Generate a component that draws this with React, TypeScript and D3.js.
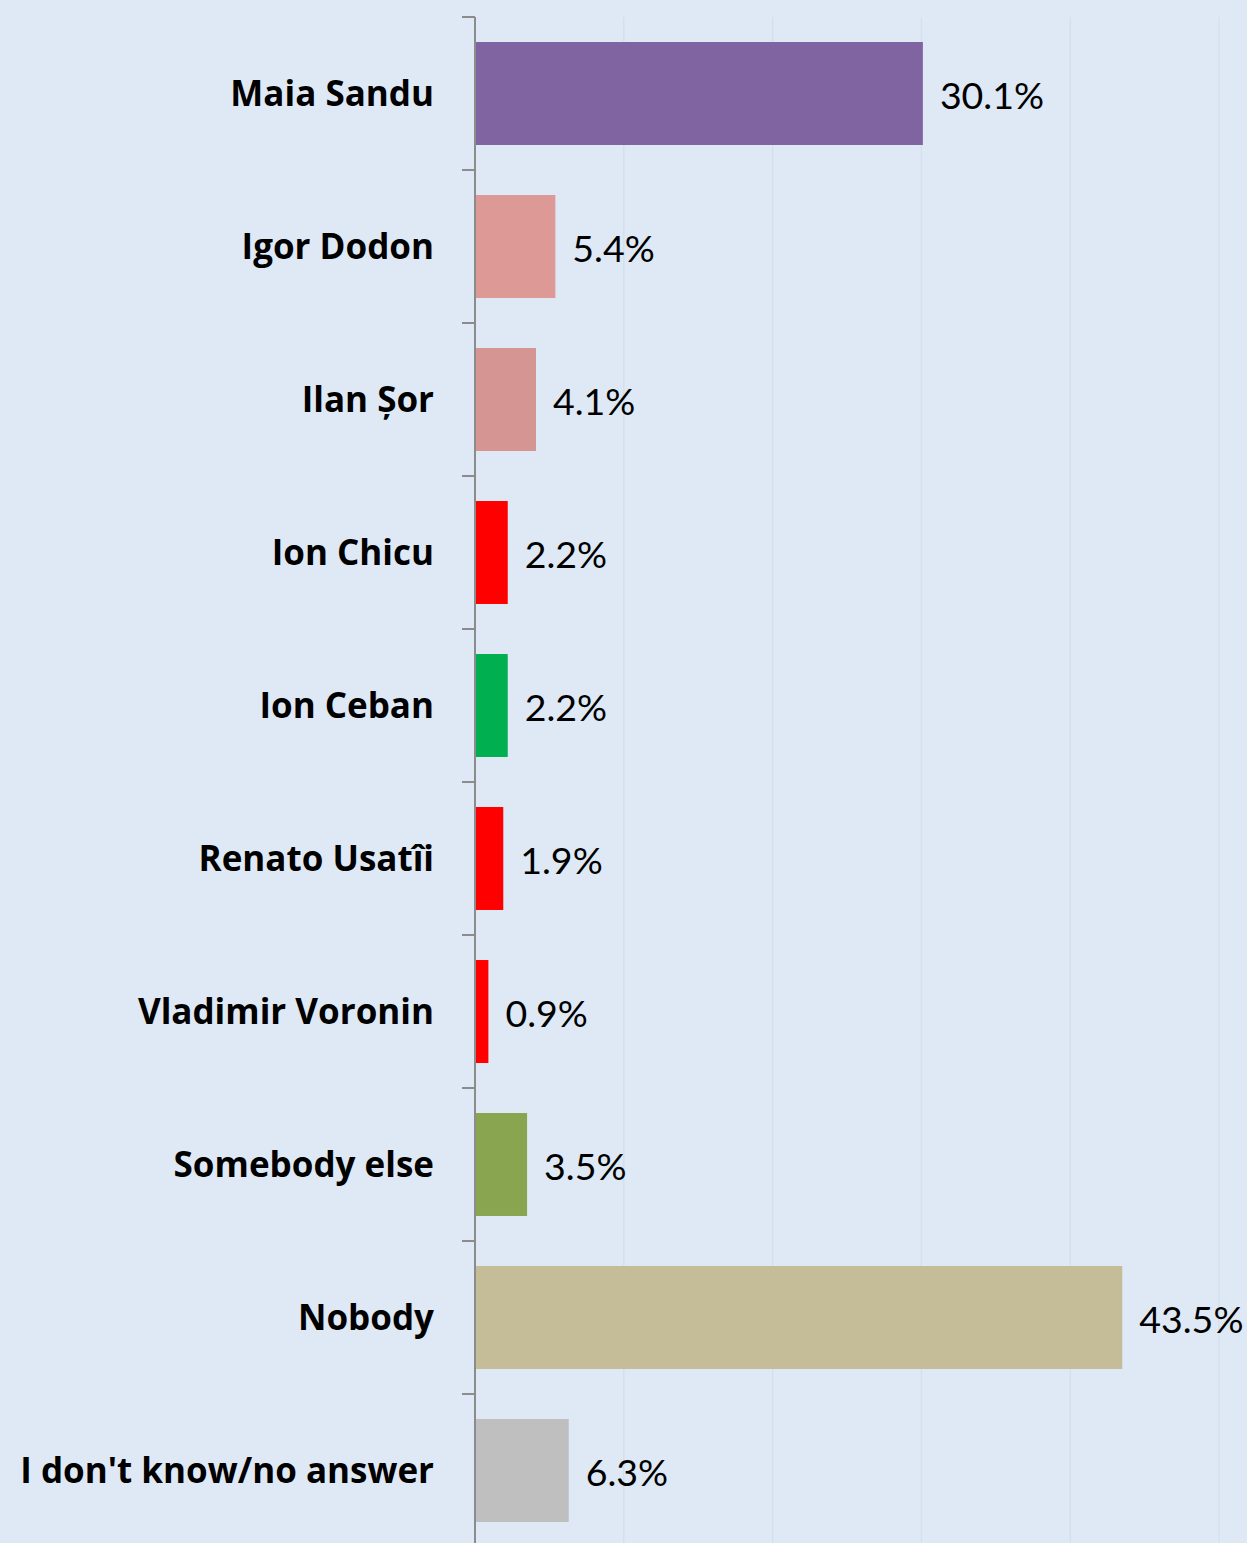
import React from "react";
import { scaleLinear, scaleBand } from "d3";

const categories = [
  "Maia Sandu",
  "Igor Dodon",
  "Ilan Șor",
  "Ion Chicu",
  "Ion Ceban",
  "Renato Usatîi",
  "Vladimir Voronin",
  "Somebody else",
  "Nobody",
  "I don't know/no answer",
];
const values = [30.1, 5.4, 4.1, 2.2, 2.2, 1.9, 0.9, 3.5, 43.5, 6.3];
const barColors = [
  "#8064a2",
  "#dc9996",
  "#d59592",
  "#ff0000",
  "#00b050",
  "#ff0000",
  "#ff0000",
  "#8aa54f",
  "#c4bd97",
  "#bfbfbf",
];
const gridTicks = [10, 20, 30, 40, 50];

export default function App() {
  const width = 1247;
  const height = 1543;
  const top = 17;

  const xScale = scaleLinear().domain([0, 50]).range([475, 1219]);
  const yScale = scaleBand<string>()
    .domain(categories)
    .range([top, top + 153 * categories.length])
    .paddingInner(0.327)
    .paddingOuter(0.1635);
  const step = yScale.step();
  const x0 = xScale(0);

  return (
    <svg
      width={width}
      height={height}
      style={{ position: "absolute", left: 0, top: 0, fontFamily: "Lato, sans-serif" }}
    >
      <rect width={width} height={height} fill="#dee9f5" />
      {/* gridlines */}
      {gridTicks.map((t) => (
        <line
          key={t}
          x1={xScale(t)}
          x2={xScale(t)}
          y1={top}
          y2={height}
          stroke="#d5e0ed"
          strokeWidth={1.5}
        />
      ))}
      {/* bars */}
      {categories.map((c, i) => (
        <rect
          key={c}
          x={x0}
          y={yScale(c)}
          width={xScale(values[i]) - x0}
          height={yScale.bandwidth()}
          fill={barColors[i]}
        />
      ))}
      {/* axis */}
      <line x1={x0} x2={x0} y1={top} y2={height} stroke="#8c8c8c" strokeWidth={2} />
      {categories.map((c, i) => (
        <line
          key={"t" + c}
          x1={x0 - 13}
          x2={x0}
          y1={top + i * step}
          y2={top + i * step}
          stroke="#8c8c8c"
          strokeWidth={2}
        />
      ))}
      <line x1={x0 - 13} x2={x0} y1={top + 10 * step} y2={top + 10 * step} stroke="#8c8c8c" strokeWidth={2} />
      {/* category labels */}
      {categories.map((c) => (
        <text
          key={"l" + c}
          x={434}
          y={(yScale(c) ?? 0) + yScale.bandwidth() / 2 + 12}
          textAnchor="end"
          fontFamily="'Open Sans', sans-serif"
          fontWeight="bold"
          fontSize={35}
          fill="#000"
        >
          {c}
        </text>
      ))}
      {/* value labels */}
      {categories.map((c, i) => (
        <text
          key={"v" + c}
          x={xScale(values[i]) + 17}
          y={(yScale(c) ?? 0) + yScale.bandwidth() / 2 + 15}
          fontSize={37.5}
          fill="#000"
        >
          {values[i].toFixed(1)}%
        </text>
      ))}
    </svg>
  );
}
